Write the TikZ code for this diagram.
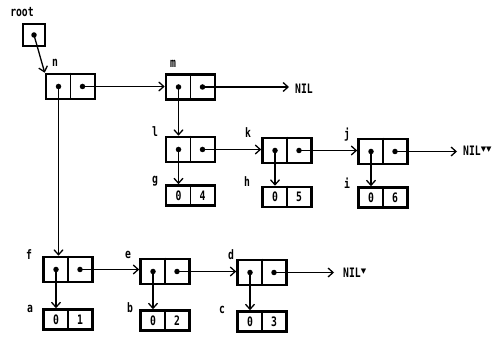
\documentclass[tikz,border=0pt]{standalone}
\usepackage{fontspec}
\newfontfamily\labfont[FakeStretch=0.75]{DejaVu Sans Mono Bold}
\newfontfamily\symfont{DejaVu Sans}
\usetikzlibrary{arrows.meta}
\newcommand\mkrec[2]{%
  \node[rec] (#1) at (#2) {};
  \draw[divl] (#1.north) -- (#1.south);
  \node[ptdot] (#1l) at ([xshift=-12pt]#1.center) {};
  \node[ptdot] (#1r) at ([xshift=12pt]#1.center) {};}
\newcommand\mkdat[4]{%
  \node[dat] (#1) at (#2) {};
  \draw[divl] (#1.north) -- (#1.south);
  \node[lab] (#1a) at ([xshift=-12pt]#1.center) {#3};
  \node[lab] (#1b) at ([xshift=12pt]#1.center) {#4};}
\begin{document}
\begin{tikzpicture}[x=1pt,y=-1pt,
  rec/.style={draw,line width=2.6pt,minimum width=49pt,minimum height=25pt,inner sep=0pt},
  dat/.style={rec,minimum height=20pt},
  divl/.style={line width=1.3pt},
  lab/.style={font=\labfont\fontsize{13}{13}\selectfont,inner sep=0pt},
  ptr/.style={line width=1.3pt,-{Straight Barb[length=5pt,width=9pt,line width=1.3pt]}},
  ptdot/.style={circle,fill,inner sep=0pt,minimum size=5.5pt}]
\useasboundingbox (0,0) rectangle (501,339);
% root
\node[lab] (troot) at (22,12) {root};
\node[rec,minimum width=22pt,minimum height=22pt] (root) at (34,35) {};
\node[ptdot] (rootd) at (root.center) {};
% records
\mkrec{n}{70.5,86.5}
\mkrec{m}{190.5,87}
\mkrec{l}{190.5,149.5}
\mkrec{k}{287,150.5}
\mkrec{j}{383,151.5}
\mkrec{f}{68,269.5}
\mkrec{e}{165,271.5}
\mkrec{d}{262,272.5}
% data
\mkdat{g}{190.5,195.5}{0}{4}
\mkdat{h}{287,197}{0}{5}
\mkdat{i}{383,197.5}{0}{6}
\mkdat{a}{68,319.5}{0}{1}
\mkdat{b}{165,320.5}{0}{2}
\mkdat{c}{262,321.5}{0}{3}
% labels
\node[lab] (tn) at (55,63) {n};
\node[lab] (tm) at (173,64) {m};
\node[lab] (tl) at (155,132) {l};
\node[lab] (tk) at (248,133) {k};
\node[lab] (tj) at (347,135) {j};
\node[lab] (tg) at (155,181) {g};
\node[lab] (th) at (247,182) {h};
\node[lab] (ti) at (347,183) {i};
\node[lab] (tf) at (29,255) {f};
\node[lab] (te) at (128,255) {e};
\node[lab] (td) at (231,255) {d};
\node[lab] (ta) at (30,309) {a};
\node[lab] (tb) at (130,308) {b};
\node[lab] (tc) at (222,310) {c};
% NIL
\node[lab,anchor=west] (nil1) at (295,89) {NIL};
\node[lab,anchor=west] (nil2) at (463,151) {NIL\raisebox{4.5pt}{\symfont\fontsize{7}{7}\selectfont ▼▼}};
\node[lab,anchor=west] (nil3) at (343,273) {NIL\raisebox{4.5pt}{\symfont\fontsize{7}{7}\selectfont ▼}};
% pointers
\draw[ptr] (rootd.center) -- (n.north west);
\draw[ptr] (nr.center) -- (nr -| m.west);
\draw[ptr] (mr.center) -- ([xshift=-6pt]mr -| nil1.west);
\draw[ptr] (ml.center) -- (ml |- l.north);
\draw[ptr] (lr.center) -- (lr -| k.west);
\draw[ptr] (kr.center) -- (kr -| j.west);
\draw[ptr] (jr.center) -- ([xshift=-6pt]jr -| nil2.west);
\draw[ptr] (ll.center) -- (ll |- g.north);
\draw[ptr] (kl.center) -- (kl |- h.north);
\draw[ptr] (jl.center) -- (jl |- i.north);
\draw[ptr] (nl.center) -- (nl |- f.north);
\draw[ptr] (fr.center) -- (fr -| e.west);
\draw[ptr] (er.center) -- (er -| d.west);
\draw[ptr] (dr.center) -- ([xshift=-9pt]dr -| nil3.west);
\draw[ptr] (fl.center) -- (fl |- a.north);
\draw[ptr] (el.center) -- (el |- b.north);
\draw[ptr] (dl.center) -- (dl |- c.north);
\end{tikzpicture}
\end{document}
